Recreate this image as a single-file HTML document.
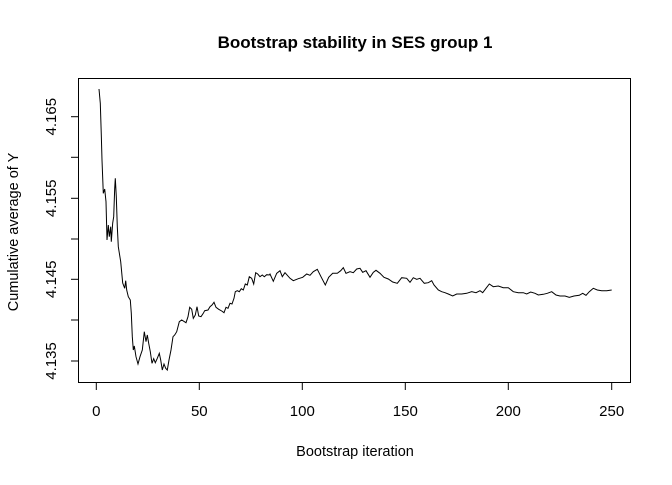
<!DOCTYPE html>
<html><head><meta charset="utf-8"><style>body{margin:0;background:#fff}</style></head><body>
<svg width="672" height="480" xmlns="http://www.w3.org/2000/svg" font-family="Liberation Sans, Arial, sans-serif">
<rect width="672" height="480" fill="#fff"/>
<text x="355" y="48" text-anchor="middle" font-weight="bold" font-size="17">Bootstrap stability in SES group 1</text>
<rect x="78.5" y="78.5" width="552" height="304" fill="none" stroke="#000" stroke-width="1"/>
<g stroke="#000" stroke-width="1">
<line x1="96.3" y1="382.5" x2="96.3" y2="390"/><line x1="199.3" y1="382.5" x2="199.3" y2="390"/>
<line x1="302.3" y1="382.5" x2="302.3" y2="390"/><line x1="405.3" y1="382.5" x2="405.3" y2="390"/>
<line x1="508.3" y1="382.5" x2="508.3" y2="390"/><line x1="611.7" y1="382.5" x2="611.7" y2="390"/>
<line x1="71" y1="116.7" x2="78.5" y2="116.7"/><line x1="71" y1="157.3" x2="78.5" y2="157.3"/>
<line x1="71" y1="198.3" x2="78.5" y2="198.3"/><line x1="71" y1="239" x2="78.5" y2="239"/>
<line x1="71" y1="279.3" x2="78.5" y2="279.3"/><line x1="71" y1="320" x2="78.5" y2="320"/>
<line x1="71" y1="361" x2="78.5" y2="361"/>
</g>
<g font-size="15" text-anchor="middle">
<text x="96.3" y="416">0</text><text x="199.3" y="416">50</text><text x="302.3" y="416">100</text>
<text x="405.3" y="416">150</text><text x="508.3" y="416">200</text><text x="611.7" y="416">250</text>
<text transform="translate(56,116.7) rotate(-90)">4.165</text>
<text transform="translate(56,198.3) rotate(-90)">4.155</text>
<text transform="translate(56,279.3) rotate(-90)">4.145</text>
<text transform="translate(56,361) rotate(-90)">4.135</text>
<text x="355" y="456" font-size="14.5">Bootstrap iteration</text>
<text transform="translate(18,232) rotate(-90)" font-size="14.5">Cumulative average of Y</text>
</g>
<polyline fill="none" stroke="#000" stroke-width="1" points="99,89 100.3,103.3 101.3,135 102,160 103.3,193.3 104.7,189 106,201.7 107,240 108.3,225 109.3,236.7 110.7,226.7 111.3,241.7 112.7,223 113.7,216.7 114.7,188.3 115.3,178.3 116.3,196.7 117.3,226.7 118.3,246.7 120.7,261.7 122.7,283 124.7,288.3 125.7,280.7 126.7,290 128.3,296.7 130.3,300 131.3,313.3 132.3,336.7 133.3,350 134.3,346 136,356.7 138,364 140,356.7 142.3,350 144.3,331.7 146,341.7 147.3,335 148.7,343.3 150.3,351.7 152,363.3 153.7,358.7 155.3,362.7 157.3,358.3 159.3,353.3 160.7,360 162.3,370 164,364 165.7,368.3 167.3,370 169,360 171,350 173,336.7 174.7,335 176.7,331.7 179.3,321.7 181.7,320 186,322.7 188,316.7 189.7,307.3 191.7,309.3 193.3,318.3 195.3,315 197,306.7 198.7,316 201,316.7 203.3,313.3 204.7,310.7 208,310 210,306.7 212,305 214,302.3 216,307.3 218.7,309.3 221.7,311 224,312.7 226,307.3 228,308.3 230,303.3 232,304 234,298.3 235.3,291.7 237.3,290.7 239.3,291.7 241.3,288.7 243.3,290 245.3,284 247.3,285 249.3,276.7 251.7,278.3 253.7,284 255.7,272.7 257.7,274 260,276.7 262.3,275 264.3,276.7 266.7,274.7 269.3,275 270,274 273.3,281.3 276.7,273.3 280,270.7 282.3,276.7 285,272.7 290,278.3 293.3,280.7 298.3,278.7 302.7,277.3 306.7,274 310,275.3 313.3,271.7 317.3,269.3 321,276.7 325.3,285 328.7,277.3 332.7,273.3 337.3,273.3 340.7,270.7 343.3,267.7 346,273.3 350,271.7 353.3,272.7 356.7,269 360,268.3 362.7,272.3 366,270.7 370,277.3 373.3,272.3 376,270.3 380,273.3 384,277.3 388.3,279 392.7,282 397.3,283.3 401.7,277.7 406.7,278.3 410,282.3 413.3,277.7 416.7,279.3 420,278.3 424.3,283.3 428.3,282.7 431.7,280.7 434,285 438.3,290 441.7,291.7 445,292.7 448.3,294 452.7,296 456.7,294 461.7,294 466.7,293.3 471.7,291.7 476,292.7 480,290.7 482.7,292.7 486,288.3 489.3,284 493.3,286.7 498.3,286 503.3,287.7 508.3,287.7 513.3,291.7 518.3,292.7 523.3,292.7 526.7,294 530.7,292 535,293.3 538.3,295 543.3,294.3 547.3,293.3 551.7,291.7 556,295 560,296 565,296 569.3,297.3 574,296 579.3,295.3 582.7,293.3 586,295.3 589.3,291.7 593.3,288.3 597.3,290 601.7,290.7 606.7,290.7 611.7,290"/>
</svg>
</body></html>
